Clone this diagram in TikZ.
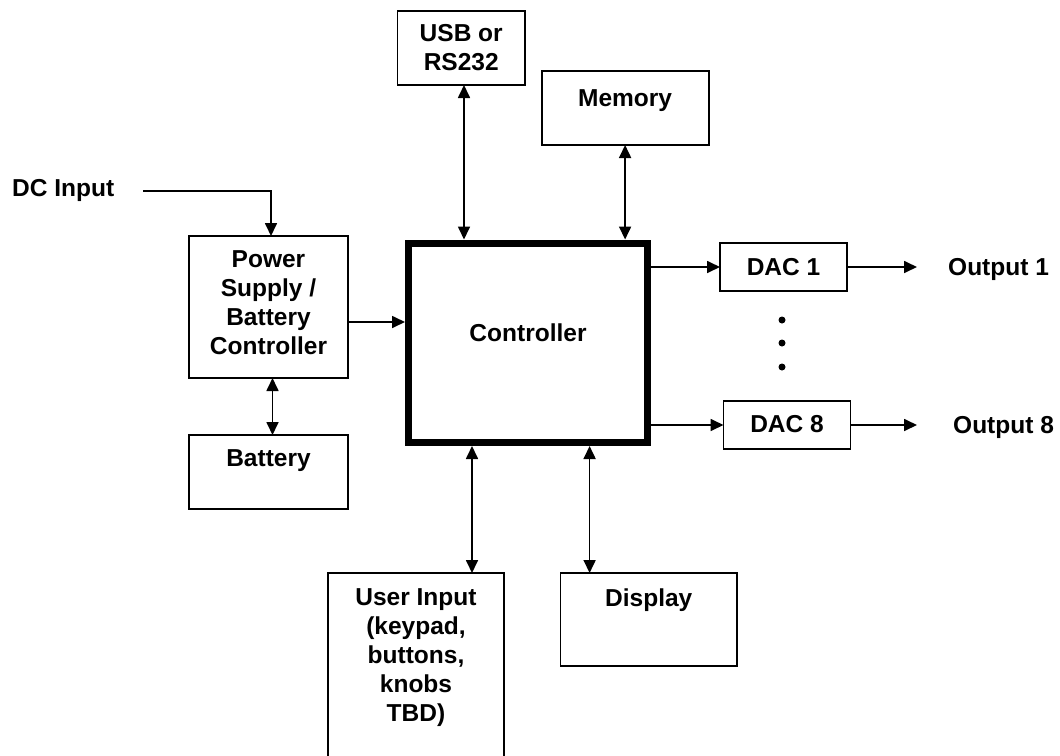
\documentclass[tikz,border=0pt]{standalone}
\usepackage{fontspec}
\setmainfont{Liberation Sans}
\usetikzlibrary{arrows.meta}
\begin{document}
\begin{tikzpicture}[x=1pt,y=-1pt,
  box/.style={draw, line width=1.9pt, inner sep=0pt, outer sep=0pt, anchor=north west},
  lbl/.style={font=\fontsize{24.5}{29}\selectfont\bfseries, align=center, inner sep=0pt, anchor=north},
  txt/.style={font=\fontsize{24.5}{29}\selectfont\bfseries, inner sep=0pt, anchor=base west},
  conn/.style={line width=1.7pt},
  tip/.style={conn, -{Triangle[length=13pt,width=12pt]}},
  both/.style={conn, {Triangle[length=13pt,width=12pt]}-{Triangle[length=13pt,width=12pt]}},
  dot/.style={circle, fill, inner sep=0pt, minimum size=7pt}
]
\clip (0,0) rectangle (1060,755);
\fill[white] (0,0) rectangle (1060,755);

% boxes
\node[box, minimum width=127.5pt, minimum height=74.4pt] (usb) at (397.5,10.6) {};
\node[box, minimum width=167pt, minimum height=74pt] (mem) at (541.6,71) {};
\node[box, minimum width=159pt, minimum height=142pt] (ps) at (189,236) {};
\node[box, minimum width=159pt, minimum height=74pt] (bat) at (189,435) {};
\node[box, line width=7pt, outer sep=3.5pt, anchor=center, minimum width=239pt, minimum height=199.5pt] (ctrl) at (528,342.75) {};
\node[box, minimum width=127pt, minimum height=48pt] (dac1) at (720,243) {};
\node[box, minimum width=127pt, minimum height=48pt] (dac8) at (723.5,401) {};
\node[box, minimum width=176pt, minimum height=227pt] (user) at (328,573) {};
\node[box, minimum width=176.5pt, minimum height=93pt] (disp) at (560.5,573) {};

% box labels
\node[lbl] (usbt) at (461.25,24.4) {USB or\\RS232};
\node[lbl] (memt) at (625.1,89.4) {Memory};
\node[lbl] (pst) at (268.5,250.4) {Power\\Supply /\\Battery\\Controller};
\node[lbl] (batt) at (268.5,449.4) {Battery};
\node[lbl] (ctrlt) at (528,323.4) {Controller};
\node[lbl] (dac1t) at (783.5,258.4) {DAC 1};
\node[lbl] (dac8t) at (787,415.4) {DAC 8};
\node[lbl] (usert) at (416,588.4) {User Input\\(keypad,\\buttons,\\knobs\\TBD)};
\node[lbl] (dispt) at (648.75,588.4) {Display};

% free labels
\node[txt] (dcin) at (12,196.7) {DC Input};
\node[txt] (out1) at (948,275) {Output 1};
\node[txt] (out8) at (953,433) {Output 8};

% dots
\node[dot] (d1) at (782,320) {};
\node[dot] (d2) at (782,343) {};
\node[dot] (d3) at (782,367) {};

% helper coordinates
\coordinate (dcstart) at (143,191);
\coordinate (outx) at (917,0);
\coordinate (ux) at (472,0);
\coordinate (dx) at (589.6,0);
\coordinate (usx) at (464,0);
\coordinate (psout) at ([yshift=-15pt]ps.east);
\coordinate (pstop) at ([xshift=2.5pt]ps.north);
\coordinate (psbot) at ([xshift=4pt]ps.south);
\coordinate (battop) at ([xshift=4pt]bat.north);

% connectors
\draw[tip] (dcstart) -| (pstop);
\draw[tip] (psout) -- (ctrl.west |- psout);
\draw[both] (psbot) -- (battop);
\draw[both] (usb.south -| usx) -- (ctrl.north -| usx);
\draw[both] (mem.south) -- (ctrl.north -| mem.south);
\draw[tip] (ctrl.east |- dac1.west) -- (dac1.west);
\draw[tip] (ctrl.east |- dac8.west) -- (dac8.west);
\draw[tip] (dac1.east) -- (dac1.east -| outx);
\draw[tip] (dac8.east) -- (dac8.east -| outx);
\draw[both] (ctrl.south -| ux) -- (user.north -| ux);
\draw[both] (ctrl.south -| dx) -- (disp.north -| dx);
\end{tikzpicture}
\end{document}
